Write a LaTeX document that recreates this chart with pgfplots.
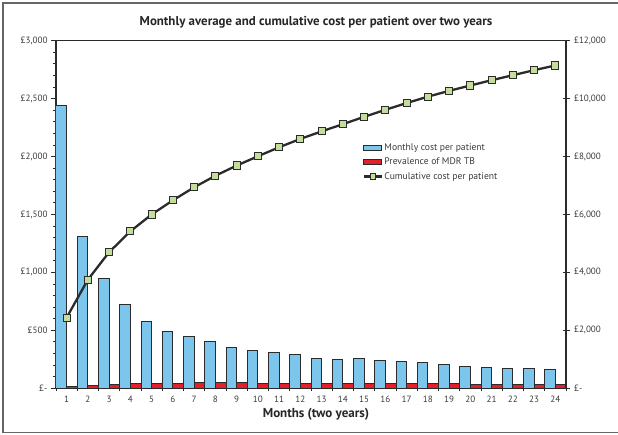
\documentclass[border=0pt]{standalone}
\usepackage{pgfplots}
\pgfplotsset{compat=1.18}
\usepackage{fontspec}
\setmainfont{PT Sans}
\definecolor{barblue}{HTML}{7CC6EE}
\definecolor{barred}{HTML}{E3202A}
\definecolor{markgreen}{HTML}{C4DC9C}
\definecolor{edge}{HTML}{2B2B2B}
\definecolor{lbl}{HTML}{3A3A3A}
\pgfplotsset{
  boxlegend/.style={legend image code/.code={\draw[##1] (0pt,-2.5pt) rectangle (18pt,2.5pt);}},
  linelegend/.style={legend image code/.code={\draw[##1, mark repeat=2, mark phase=2, mark size=2.6pt] plot coordinates {(0pt,0pt) (9pt,0pt) (18pt,0pt)};}},
}
\begin{document}
\begin{tikzpicture}[x=1pt,y=1pt]
\useasboundingbox (-56,-46.7) rectangle (562,388.3);
\draw[line width=1.4pt, color=black!60] (-53,-44) rectangle (566,385.3);
\begin{axis}[
  scale only axis, width=510pt, height=347.6pt,
  xmin=0.5, xmax=24.5, ymin=0, ymax=3000,
  /pgf/number format/assume math mode=true,
  xtick={1,...,24}, major x tick style={draw=none},
  minor xtick={0.5,1.5,...,24.5},
  xtick pos=bottom, ytick pos=left,
  tick align=outside,
  ytick={0,500,...,3000},
  yticklabels={£-,£500,{£1,000},{£1,500},{£2,000},{£2,500},{£3,000}},
  minor y tick num=4,
  major tick length=5pt, minor tick length=3pt,
  tick style={line width=0.9pt, color=edge},
  axis line style={line width=1.1pt, color=edge},
  ticklabel style={font=\fontsize{9.1}{11}\selectfont, color=lbl},
  xticklabel style={yshift=1pt},
]
\addplot[ybar, bar width=0.5, bar shift=-0.25, fill=barblue, draw=edge, line width=1pt] coordinates {
(1,2440) (2,1310) (3,950) (4,720) (5,580) (6,490) (7,448) (8,400)
(9,350) (10,322) (11,311) (12,289) (13,260) (14,248) (15,254) (16,242)
(17,233) (18,220) (19,202) (20,185) (21,182) (22,173) (23,173) (24,164)};
\addplot[ybar, bar width=0.5, bar shift=0.25, fill=barred, draw=edge, line width=1pt] coordinates {
(1,12) (2,20) (3,37) (4,40) (5,40) (6,40) (7,46) (8,46)
(9,46) (10,40) (11,40) (12,40) (13,40) (14,40) (15,40) (16,40)
(17,40) (18,40) (19,40) (20,35) (21,35) (22,35) (23,35) (24,35)};
\end{axis}
\begin{axis}[
  scale only axis, width=510pt, height=347.6pt,
  xmin=0.5, xmax=24.5, ymin=0, ymax=12000,
  axis x line=none, axis y line*=right,
  scaled y ticks=false,
  ytick={0,2000,...,12000},
  yticklabels={£-,{£2,000},{£4,000},{£6,000},{£8,000},{£10,000},{£12,000}},
  ytick align=center, major tick length=7pt,
  tick style={line width=0.9pt, color=edge},
  axis line style={line width=1.1pt, color=edge},
  ticklabel style={font=\fontsize{9.1}{11}\selectfont, color=lbl},
  yticklabel style={xshift=1pt},
  legend style={at={(0.595,0.714)}, anchor=north west, draw=none, fill=none,
    font=\fontsize{9.6}{11}\selectfont, text=lbl, row sep=3pt,
    nodes={inner sep=1.5pt}},
  legend cell align=left,
]
\addlegendimage{boxlegend, fill=barblue, draw=edge, line width=1pt}
\addlegendentry{Monthly cost per patient}
\addlegendimage{boxlegend, fill=barred, draw=edge, line width=1pt}
\addlegendentry{Prevalence of MDR TB}
\addplot[color=edge, line width=2.3pt, mark=square*, mark size=3.6pt,
  mark options={fill=markgreen, draw=edge, line width=1pt}, linelegend]
 coordinates {
(1,2440) (2,3750) (3,4700) (4,5420) (5,6000) (6,6490) (7,6938) (8,7338)
(9,7688) (10,8010) (11,8321) (12,8610) (13,8870) (14,9118) (15,9372) (16,9614)
(17,9847) (18,10067) (19,10269) (20,10454) (21,10636) (22,10809) (23,10982) (24,11146)};
\addlegendentry{Cumulative cost per patient}
\end{axis}
\node[font=\bfseries\fontsize{12.9}{15}\selectfont, color=black!85] at (260,365.8) {Monthly average and cumulative cost per patient over two years};
\node[font=\bfseries\fontsize{13}{15}\selectfont, color=black!85] at (260,-26.5) {Months (two years)};
\end{tikzpicture}
\end{document}
